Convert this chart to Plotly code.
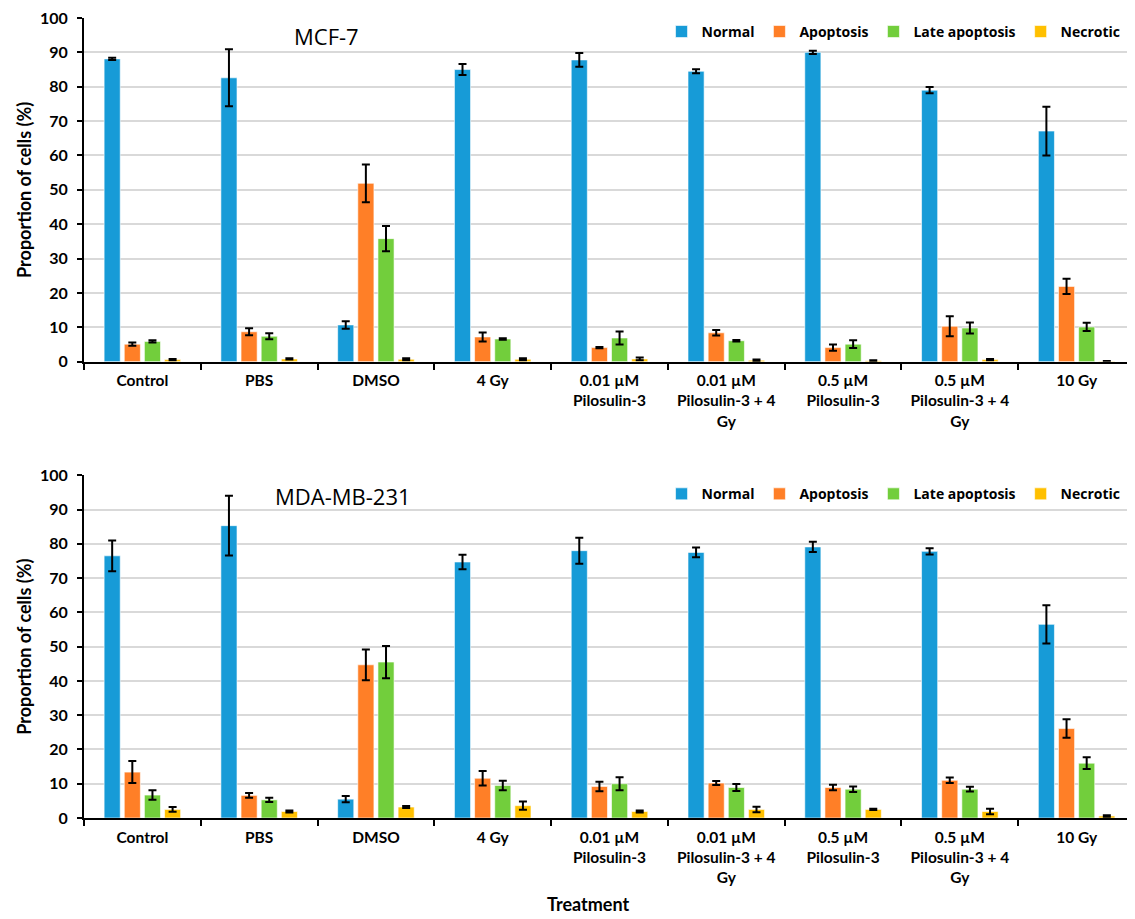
import plotly.graph_objects as go

categories = ["Control", "PBS", "DMSO", "4 Gy", "0.01 µM<br>Pilosulin-3",
              "0.01 µM<br>Pilosulin-3 + 4<br>Gy", "0.5 µM<br>Pilosulin-3",
              "0.5 µM<br>Pilosulin-3 + 4<br>Gy", "10 Gy"]
series_names = ["Normal", "Apoptosis", "Late apoptosis", "Necrotic"]
colors = ["#179BD7", "#FF7F27", "#72CE3C", "#FFC000"]

# MCF-7
mcf_normal = [88.1, 82.6, 10.7, 85.0, 87.8, 84.5, 90.0, 79.0, 67.1]
mcf_normal_err = [0.3, 8.3, 1.1, 1.6, 2.0, 0.6, 0.5, 0.9, 7.1]
mcf_apop = [5.1, 8.7, 51.9, 7.2, 4.1, 8.4, 4.1, 10.3, 21.9]
mcf_apop_err = [0.5, 1.0, 5.5, 1.3, 0.2, 0.8, 0.9, 2.9, 2.2]
mcf_late = [5.9, 7.4, 35.8, 6.6, 6.9, 6.1, 5.1, 9.8, 10.1]
mcf_late_err = [0.3, 0.9, 3.7, 0.2, 1.9, 0.2, 1.1, 1.6, 1.2]
mcf_necr = [0.6, 0.8, 0.7, 0.7, 0.8, 0.4, 0.3, 0.6, 0.1]
mcf_necr_err = [0.2, 0.2, 0.3, 0.3, 0.4, 0.2, 0.1, 0.2, 0.1]

# MDA-MB-231
mda_normal = [76.5, 85.3, 5.5, 74.7, 78.0, 77.5, 79.1, 77.8, 56.5]
mda_normal_err = [4.5, 8.7, 0.9, 2.1, 3.8, 1.4, 1.5, 0.9, 5.6]
mda_apop = [13.4, 6.6, 44.7, 11.6, 9.2, 10.2, 8.9, 11.0, 26.1]
mda_apop_err = [3.2, 0.7, 4.5, 2.1, 1.4, 0.6, 0.8, 0.8, 2.7]
mda_late = [6.7, 5.3, 45.5, 9.5, 10.0, 8.9, 8.4, 8.4, 16.0]
mda_late_err = [1.4, 0.6, 4.7, 1.4, 1.9, 1.0, 0.8, 0.7, 1.7]
mda_necr = [2.5, 1.9, 3.2, 3.6, 1.9, 2.5, 2.5, 1.9, 0.6]
mda_necr_err = [0.7, 0.3, 0.3, 1.2, 0.3, 0.8, 0.2, 0.8, 0.2]

panels = [
    ("x", "y", "legend", [mcf_normal, mcf_apop, mcf_late, mcf_necr],
     [mcf_normal_err, mcf_apop_err, mcf_late_err, mcf_necr_err]),
    ("x2", "y2", "legend2", [mda_normal, mda_apop, mda_late, mda_necr],
     [mda_normal_err, mda_apop_err, mda_late_err, mda_necr_err]),
]

fig = go.Figure()
for xa, ya, lg, vals, errs in panels:
    for name, color, v, e in zip(series_names, colors, vals, errs):
        fig.add_trace(go.Bar(
            x=categories, y=v, name=name, xaxis=xa, yaxis=ya, legend=lg,
            marker=dict(color=color, line=dict(color="rgba(255,255,255,0.6)", width=1)),
            error_y=dict(type="data", array=e, color="black", thickness=2, width=4),
        ))

LBL = "Lato"
xtickfont = dict(family=LBL, size=15.5, color="black", weight="bold")
ytickfont = dict(family=LBL, size=16, color="black", weight="bold")
titlefont = dict(family=LBL, size=18, color="black", weight="bold")

def xaxis(anchor):
    return dict(anchor=anchor, domain=[0, 1], type="category",
                showline=True, linecolor="black", linewidth=2,
                ticks="outside", tickson="boundaries", ticklen=6, tickwidth=2, tickcolor="black",
                tickfont=xtickfont, ticklabelstandoff=4, showgrid=False)

def yaxis(anchor, domain):
    return dict(anchor=anchor, domain=domain, range=[0, 100], dtick=10,
                showline=True, linecolor="black", linewidth=2,
                ticks="outside", ticklen=5, tickwidth=2, tickcolor="black",
                tickfont=ytickfont, ticklabelstandoff=6, ticklabeloverflow="allow",
                showgrid=True, gridcolor="#D9D9D9", gridwidth=1.5,
                zeroline=False,
                title=dict(text="Proportion of cells (%)", font=titlefont, standoff=4))

legend_common = dict(orientation="h", xanchor="right", yanchor="middle", x=0.991,
                     font=dict(family="Open Sans", size=14, color="black", weight="bold"),
                     bgcolor="rgba(0,0,0,0)", itemclick=False, traceorder="normal")

fig.update_layout(
    width=1127, height=911,
    margin=dict(l=76, r=0, t=7, b=101),
    paper_bgcolor="white", plot_bgcolor="white",
    barmode="group", bargap=0.31, bargroupgap=0.2,
    showlegend=True,
    xaxis=xaxis("y"),
    yaxis=yaxis("x", [0.5704, 1.0]),
    xaxis2=xaxis("y2"),
    yaxis2=yaxis("x2", [0.0, 0.4284]),
    legend=dict(**legend_common, y=0.9826),
    legend2=dict(**legend_common, y=0.4047),
    annotations=[
        dict(text="MCF-7", xref="paper", yref="paper", x=0.231, y=0.9776,
             xanchor="center", yanchor="middle",
             showarrow=False, font=dict(family="Open Sans", size=22, color="black")),
        dict(text="MDA-MB-231", xref="paper", yref="paper", x=0.246, y=0.402,
             xanchor="center", yanchor="middle",
             showarrow=False, font=dict(family="Open Sans", size=22, color="black")),
        dict(text="Treatment", xref="paper", yref="paper", x=0.4795, y=-0.1071,
             xanchor="center", yanchor="middle",
             showarrow=False, font=dict(family=LBL, size=18, color="black", weight="bold")),
    ],
)

fig.write_html("out.html")
